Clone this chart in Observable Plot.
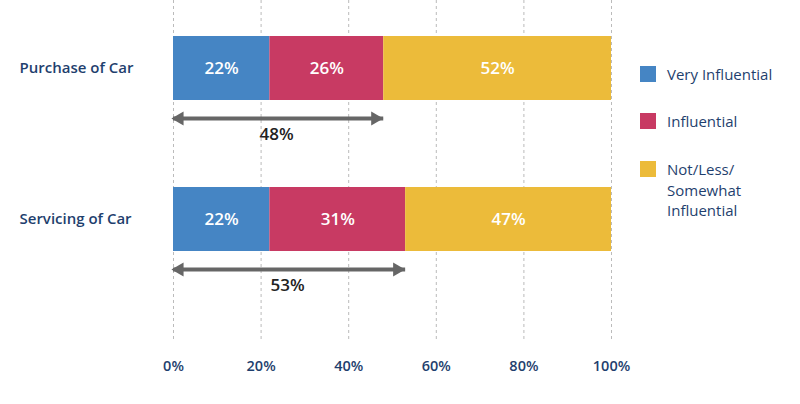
<!DOCTYPE html>
<html>
<head>
<meta charset="utf-8">
<script src="https://cdn.jsdelivr.net/npm/d3@7"></script>
<script src="https://cdn.jsdelivr.net/npm/@observablehq/plot@0.6"></script>
<style>
  html, body { margin: 0; padding: 0; background: #fff; }
  #wrap { position: relative; width: 800px; height: 404px; font-family: "Open Sans", Roboto, sans-serif; }
  .legend { position: absolute; left: 640px; color: #1f3f6e; font-size: 15px; font-family: "Open Sans", sans-serif; }
  .item { position: absolute; left: 0; white-space: nowrap; }
  .sw { position: absolute; left: 0; width: 16px; height: 16px; }
  .lab { position: absolute; left: 27px; line-height: 20.5px; }
</style>
</head>
<body>
<div id="wrap"></div>
<script>
const categories = ["Purchase of Car", "Servicing of Car"];
const levels = ["Very Influential", "Influential", "Not/Less/Somewhat Influential"];
const legendLabels = [["Very Influential"], ["Influential"], ["Not/Less/", "Somewhat", "Influential"]];
const veryInfluential = [22, 22];
const influential = [26, 31];
const notInfluential = [52, 47];
const combined = [48, 53];
const xTicks = [0, 20, 40, 60, 80, 100];
const colors = ["#4585c4", "#c83a63", "#ecbb3a"];

const rows = [];
categories.forEach((c, i) => {
  rows.push({category: c, level: levels[0], value: veryInfluential[i]});
  rows.push({category: c, level: levels[1], value: influential[i]});
  rows.push({category: c, level: levels[2], value: notInfluential[i]});
});
const totals = categories.map((c, i) => ({category: c, value: combined[i], zero: 0}));

const navy = "#1f3f6e";
const chart = Plot.plot({
  width: 800,
  height: 404,
  marginLeft: 173,
  marginRight: 189,
  marginTop: 0,
  marginBottom: 64,
  style: {fontFamily: "'Open Sans', sans-serif", background: "transparent"},
  x: {domain: [0, 100], ticks: xTicks, tickFormat: d => d + "%"},
  y: {domain: categories, paddingInner: 0.578, paddingOuter: 0.411, align: 0.289, axis: null},
  color: {domain: levels, range: colors},
  marks: [
    Plot.gridX(xTicks, {stroke: "#bbb", strokeOpacity: 1, strokeDasharray: "3,3", strokeWidth: 1}),
    Plot.axisX({ticks: xTicks, tickFormat: d => d + "%", tickSize: 0, tickPadding: 20, fontSize: 14.5, fontWeight: 600, fill: navy}),
    Plot.barX(rows, Plot.stackX({x: "value", y: "category", fill: "level", order: levels})),
    Plot.text(rows, Plot.stackX({x: "value", y: "category", z: "level", order: levels, text: d => d.value + "%", fill: "white", fontSize: 17, fontWeight: 600})),
    Plot.text(categories, {y: d => d, text: d => d, frameAnchor: "left", textAnchor: "start", dx: -154, fill: navy, fontSize: 15, fontWeight: 600}),
    Plot.ruleY(totals, {y: "category", x1: "zero", x2: "value", dy: 50, stroke: "#666", strokeWidth: 4}),
    Plot.dot(totals, {x: "zero", y: "category", dy: 50, dx: 6, symbol: "triangle", r: 5.2, rotate: -90, fill: "#666", stroke: "none"}),
    Plot.dot(totals, {x: "value", y: "category", dy: 50, dx: -8.5, symbol: "triangle", r: 5.2, rotate: 90, fill: "#666", stroke: "none"}),
    Plot.text(totals, {x: d => d.value / 2, y: "category", dy: 66, dx: -2, text: d => d.value + "%", fill: "#222", fontSize: 17, fontWeight: 600})
  ]
});

const wrap = document.getElementById("wrap");
wrap.appendChild(chart);

const legend = document.createElement("div");
legend.className = "legend";
const tops = [66, 113, 161];
legendLabels.forEach((lines, i) => {
  const item = document.createElement("div");
  item.className = "item";
  item.style.top = tops[i] + "px";
  const sw = document.createElement("div");
  sw.className = "sw";
  sw.style.background = colors[i];
  const lab = document.createElement("div");
  lab.className = "lab";
  lab.style.top = "-2px";
  lab.innerHTML = lines.join("<br>");
  item.appendChild(sw);
  item.appendChild(lab);
  legend.appendChild(item);
});
wrap.appendChild(legend);
chart.style.position = "absolute";
chart.style.left = "0";
chart.style.top = "0";
</script>
</body>
</html>
